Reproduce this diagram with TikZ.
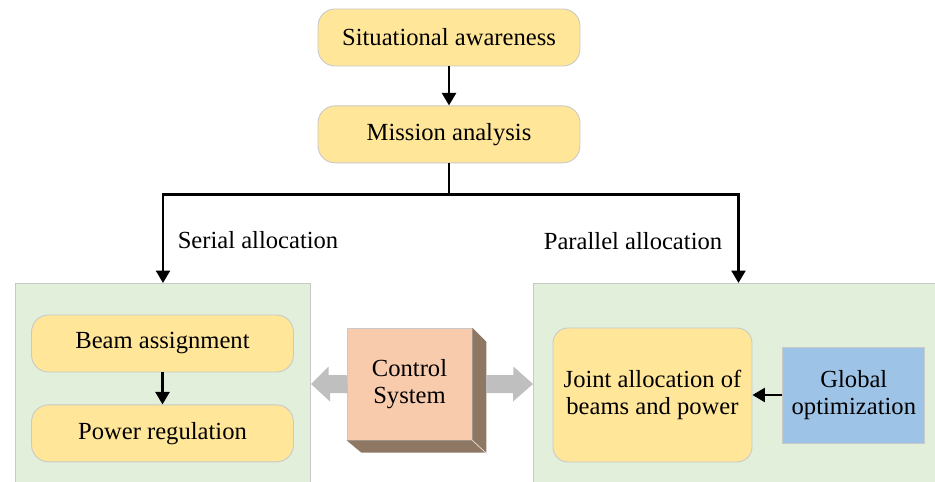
\documentclass[tikz,border=0pt]{standalone}
\usepackage{fontspec}
\setmainfont{Liberation Serif}
\usepackage{xcolor}
\usetikzlibrary{arrows.meta,positioning}

\definecolor{boxyellow}{HTML}{FFE699}
\definecolor{boxline}{HTML}{C9C9C9}
\definecolor{panelgreen}{HTML}{E2EFDA}
\definecolor{panelline}{HTML}{C8C8C8}
\definecolor{optblue}{HTML}{9DC3E6}
\definecolor{ctrlfront}{HTML}{F8CBAD}
\definecolor{ctrlside}{HTML}{8E7864}
\definecolor{bargray}{HTML}{BFBFBF}

\begin{document}
\begin{tikzpicture}[
  x=0.02cm, y=-0.02cm,
  font=\fontsize{14}{15.5}\selectfont,
  node distance=7mm and 6mm,
  box/.style={
    draw=boxline,
    fill=boxyellow,
    rounded corners=0.34cm,
    align=center,
    minimum width=5.24cm,
    minimum height=1.14cm,
    line width=0.5pt
  },
  panel/.style={
    draw=panelline,
    fill=panelgreen,
    anchor=north west,
    inner sep=0pt,
    minimum height=4.3cm,
    line width=0.6pt
  },
  optbox/.style={
    draw=boxline,
    fill=optblue,
    align=center,
    minimum width=2.84cm,
    minimum height=1.92cm,
    line width=0.5pt
  },
  ctrlbox/.style={
    draw=boxline,
    fill=ctrlfront,
    align=center,
    minimum width=2.5cm,
    minimum height=2.24cm,
    line width=0.4pt
  },
  arrow/.style={-{Triangle[length=2.5mm, width=2.8mm]}, line width=1.4pt},
  bigarrow/.style={fill=bargray}
]
  \useasboundingbox (0,0) rectangle (935,482);
  \clip (0,0) rectangle (935,482);

  \node[box] (aware) at (449,37.5) {Situational awareness};
  \node[box, below=0.78cm of aware] (mission) {Mission analysis};

  \node[panel, minimum width=5.9cm] (serialpanel) at (15,283) {};
  \node[panel, minimum width=8.2cm] (parallelpanel) at (533,283) {};

  \node[box] (beam) at (162.5,343.5) {Beam assignment};
  \node[box, below=0.64cm of beam] (power) {Power regulation};

  \node[box, minimum width=3.98cm, minimum height=2.68cm, rounded corners=0.3cm] (joint) at (652.5,395) {Joint allocation of\\beams and power};
  \node[optbox, right=0.6cm of joint] (global) {Global\\optimization};

  \node[ctrlbox] (ctrl) at (409.5,384) {Control\\System};
  \fill[ctrlside] (ctrl.north east) -- ++(14,14) -- ++(0,111) -- ++(-125,0) -- (ctrl.south west) -- (ctrl.south east) -- cycle;
  \draw[white!80!ctrlside, line width=0.4pt] (ctrl.south east) -- ++(14,13);

  \node (seriallabel) at (258,240) {Serial allocation};
  \node (parallellabel) at (633,241) {Parallel allocation};

  \draw[arrow] (aware) -- (mission);
  \draw[arrow] (mission.south) -- ++(0,31) -| (serialpanel.north);
  \draw[arrow] (mission.south) ++(0,31) -| (parallelpanel.north);
  \draw[arrow] (beam) -- (power);
  \draw[arrow] (global) -- (joint);

  \fill[bigarrow] (ctrl.west) ++(0,-9) -- ++(-18,0) -- ++(0,-8.5) -- (serialpanel.east |- ctrl.west) -- ++(19,17.5) -- ++(0,-8.5) -- ++(18,0) -- cycle;
  \fill[bigarrow] (ctrl.east) ++(14,-9) -- ++(27,0) -- ++(0,-8.5) -- (parallelpanel.west |- ctrl.east) -- ++(-20,17.5) -- ++(0,-8.5) -- ++(-27,0) -- cycle;
\end{tikzpicture}
\end{document}
